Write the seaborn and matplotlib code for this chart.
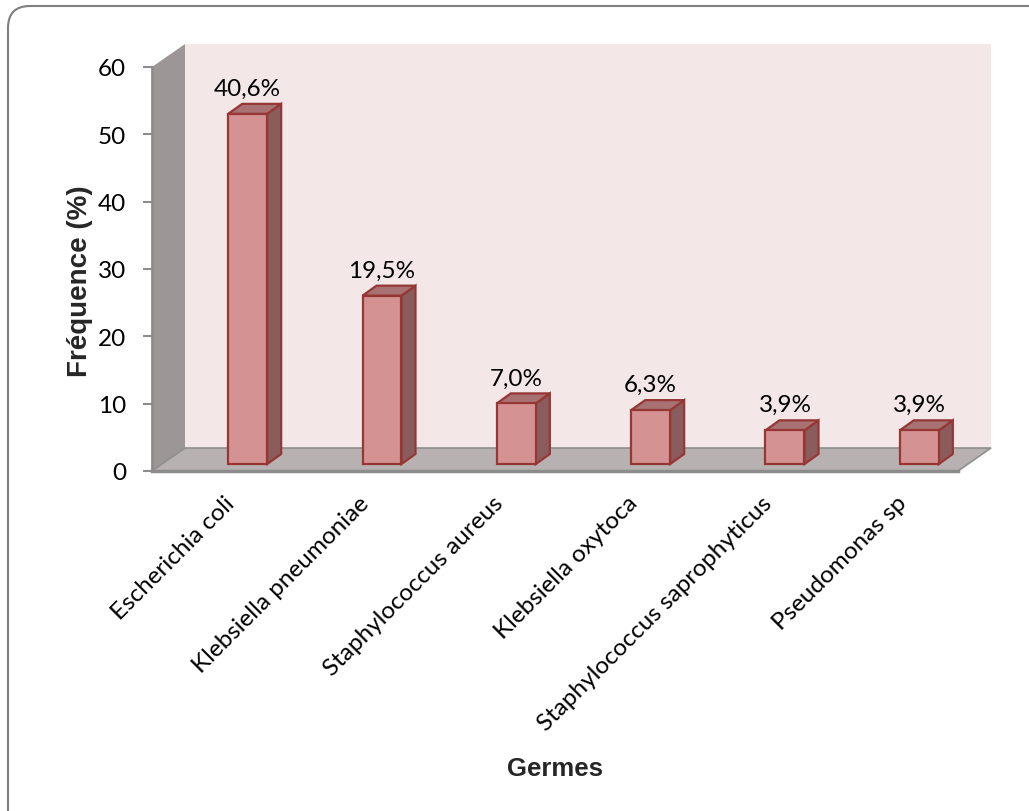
import matplotlib
matplotlib.use("Agg")
import matplotlib.pyplot as plt
import seaborn as sns
import pandas as pd
from matplotlib.patches import Polygon, FancyBboxPatch
from matplotlib.transforms import ScaledTranslation

# ---- data ----
categories = ["Escherichia coli", "Klebsiella pneumoniae", "Staphylococcus aureus",
              "Klebsiella oxytoca", "Staphylococcus saprophyticus", "Pseudomonas sp"]
counts = [52, 25, 9, 8, 5, 5]
pct_labels = ["40,6%", "19,5%", "7,0%", "6,3%", "3,9%", "3,9%"]
y_ticks = [0, 10, 20, 30, 40, 50, 60]
x_title = "Germes"
y_title = "Fréquence (%)"

df = pd.DataFrame({"germe": categories, "n": counts})

sns.set_theme(style="white")
plt.rcParams['font.family'] = ['Lato', 'DejaVu Sans']

W, H = 1029, 812
fig = plt.figure(figsize=(W / 100, H / 100), dpi=100)

# outer rounded frame
bg = fig.add_axes([0, 0, 1, 1])
bg.set_xlim(0, W); bg.set_ylim(H, 0); bg.axis('off')
bg.add_patch(FancyBboxPatch((8, 7), W + 40, H + 40,
                            boxstyle="round,pad=0,rounding_size=22",
                            fc='white', ec='#7F7F7F', lw=1.5))

L, R, B, T = 152, 958, 472, 68
ax = fig.add_axes([L / W, 1 - B / H, (R - L) / W, (B - T) / H])
ax.patch.set_alpha(0)

ymax = 60
ncat = len(categories)
px_x = (R - L) / ncat
px_y = (B - T) / ymax

# wall depth
DX = 33 / px_x
DY = 23 / px_y
x0, x1 = -0.5, ncat - 0.5

back = Polygon([(x0 + DX, DY), (x1 + DX, DY), (x1 + DX, ymax + DY), (x0 + DX, ymax + DY)],
               closed=True, fc='#F3E7E8', ec='none', clip_on=False, zorder=0)
left = Polygon([(x0, 0), (x0 + DX, DY), (x0 + DX, ymax + DY), (x0, ymax)],
               closed=True, fc='#9C9696', ec='none', clip_on=False, zorder=0.5)
floor = Polygon([(x0, 0), (x1, 0), (x1 + DX, DY), (x0 + DX, DY)],
                closed=True, fc='#B8B1B1', ec='#8F8F8F', lw=1.2, clip_on=False, zorder=0.6)
for p in (back, left, floor):
    ax.add_patch(p)

front_c = '#D49292'
side_c = '#8A5C5C'
top_c = '#A87272'
edge_c = '#963735'

bar_w = 39 / px_x
sns.barplot(data=df, x="germe", y="n", color=front_c, width=bar_w,
            edgecolor=edge_c, linewidth=1.6, saturation=1, ax=ax, zorder=3)

shift_x = 28.5 / px_x
shift_y = 7 / px_y
bdx = 14 / px_x
bdy = 10 / px_y

FS = 17.5

bars = [p for p in ax.patches if p not in (back, left, floor)]
for p, lab in zip(bars, pct_labels):
    p.set_x(p.get_x() + shift_x)
    p.set_y(shift_y)
    p.set_clip_on(False)
    xl = p.get_x(); w = p.get_width(); h = p.get_height()
    yb = p.get_y(); yt = yb + h
    side = Polygon([(xl + w, yb), (xl + w + bdx, yb + bdy), (xl + w + bdx, yt + bdy), (xl + w, yt)],
                   closed=True, fc=side_c, ec=edge_c, lw=1.6, clip_on=False, zorder=2.9)
    top = Polygon([(xl, yt), (xl + w, yt), (xl + w + bdx, yt + bdy), (xl + bdx, yt + bdy)],
                  closed=True, fc=top_c, ec=edge_c, lw=1.6, clip_on=False, zorder=2.9)
    ax.add_patch(side); ax.add_patch(top)
    ax.annotate(lab, (xl + w / 2, yt + bdy), xytext=(0, 6.5), textcoords='offset points',
                ha='center', va='baseline', fontsize=FS, color='black',
                annotation_clip=False)

ax.set_xlim(x0, x1)
ax.set_ylim(0, ymax)
ax.set_yticks(y_ticks)
ax.set_yticklabels([str(v) for v in y_ticks], fontsize=FS, color='black')
ax.set_xticks(range(ncat))
ax.set_xticklabels(categories, rotation=45, ha='right', rotation_mode='anchor',
                   fontsize=FS, color='black')
ax.set_xticks([i - 0.5 for i in range(ncat + 1)], minor=True)
ax.tick_params(axis='x', which='major', length=0, pad=15)
ax.tick_params(axis='x', which='minor', length=6, width=1.5, color='#8C8C8C', direction='out')
ax.tick_params(axis='y', which='major', length=6.5, width=1.5, color='#8C8C8C',
               direction='out', pad=12, left=True)
for lbl in ax.get_xticklabels():
    lbl.set_transform(lbl.get_transform() + ScaledTranslation(5 / 100, 0, fig.dpi_scale_trans))

ax.set_xlabel(""); ax.set_ylabel("")
for s in ('top', 'right'):
    ax.spines[s].set_visible(False)
ax.spines['left'].set_color('#8C8C8C'); ax.spines['left'].set_linewidth(2)
ax.spines['bottom'].set_color('#8C8C8C'); ax.spines['bottom'].set_linewidth(2.5)
ax.grid(False)

fig.text(555 / W, 1 - 776 / H, x_title, ha='center', va='baseline', rotation_mode='anchor',
         fontsize=18.5, fontweight='bold', family=['Liberation Sans', 'DejaVu Sans'])
fig.text(87 / W, 1 - 281 / H, y_title, ha='center', va='baseline', rotation=90,
         rotation_mode='anchor', fontsize=20, fontweight='bold',
         family=['Liberation Sans', 'DejaVu Sans'])

fig.savefig("out.png", dpi=100)
